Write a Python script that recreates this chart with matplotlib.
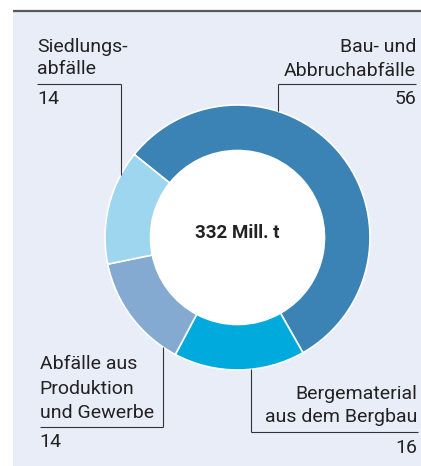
import numpy as np
import matplotlib.pyplot as plt
from matplotlib.patches import Rectangle

# share of waste volume in percent, clockwise from the top left
categories = ["Bau- und\nAbbruchabfälle", "Bergematerial\naus dem Bergbau",
              "Abfälle aus\nProduktion\nund Gewerbe", "Siedlungs-\nabfälle"]
values = [56, 16, 14, 14]
colors = ["#3b82b5", "#00aadc", "#84aad1", "#9fd6ef"]
total_label = "332 Mill. t"

W, H = 421, 466
CENTER = (237.5, H - 237.5)
RADIUS = 132.5
HOLE = 87.0
TEXT = "#222222"
LINE = "#333333"
FONT = "Roboto"


def py(y):
  """Pixel row (from top) to axes y."""
  return H - y


def draw_label(ax, lines, value, x, baselines, rule_y, lead_x, ha, down):
  """Label block with a rule and a vertical leader line to the ring."""
  for line, yb in zip(lines, baselines):
    ax.text(x, py(yb), line, ha=ha, va="baseline", fontsize=14,
            color=TEXT, family=FONT)
  ax.text(x, py(rule_y + 20.5), value, ha=ha, va="baseline", fontsize=14,
          color=TEXT, family=FONT)
  dx = lead_x - CENTER[0]
  ring_y = CENTER[1] + (-1 if down else 1) * np.sqrt(RADIUS ** 2 - dx ** 2)
  ax.plot([x, lead_x], [py(rule_y), py(rule_y)], color=LINE, lw=0.8,
          solid_capstyle="butt")
  ax.plot([lead_x, lead_x], [py(rule_y), ring_y], color=LINE, lw=0.8,
          solid_capstyle="butt")


fig = plt.figure(figsize=(W / 100, H / 100), dpi=100)
ax = fig.add_axes([0, 0, 1, 1])

ax.add_patch(Rectangle((13, 0), W - 13, py(11), facecolor="#e8edf7",
                       edgecolor="none", zorder=0))
ax.plot([13, W], [py(10.5), py(10.5)], color="#5a5a5a", lw=1.6,
        solid_capstyle="butt")

ax.pie(values, colors=colors, startangle=141.2, counterclock=False,
       center=CENTER, radius=RADIUS,
       wedgeprops=dict(width=RADIUS - HOLE, edgecolor="white", linewidth=1.2))
ax.add_patch(plt.Circle(CENTER, HOLE, facecolor="white", edgecolor="none"))
ax.text(CENTER[0], py(237.7), total_label, ha="center", va="baseline",
        fontsize=13.5, fontweight="bold", color=TEXT, family=FONT)

labels = [c.split("\n") for c in categories]
vals = [str(v) for v in values]
draw_label(ax, labels[0], vals[0], 416, [52.3, 76], 83.5, 277.5, "right", False)
draw_label(ax, labels[1], vals[1], 417.5, [399, 422.3], 432.3, 251, "right", True)
draw_label(ax, labels[2], vals[2], 39.5, [369, 393.5, 418], 426.7, 163, "left", True)
draw_label(ax, labels[3], vals[3], 37, [51.5, 74.5], 83.5, 120.5, "left", False)

ax.set_xlim(0, W)
ax.set_ylim(0, H)
ax.set_aspect("auto")
ax.axis("off")
fig.savefig("out.png", dpi=100, facecolor="white")
